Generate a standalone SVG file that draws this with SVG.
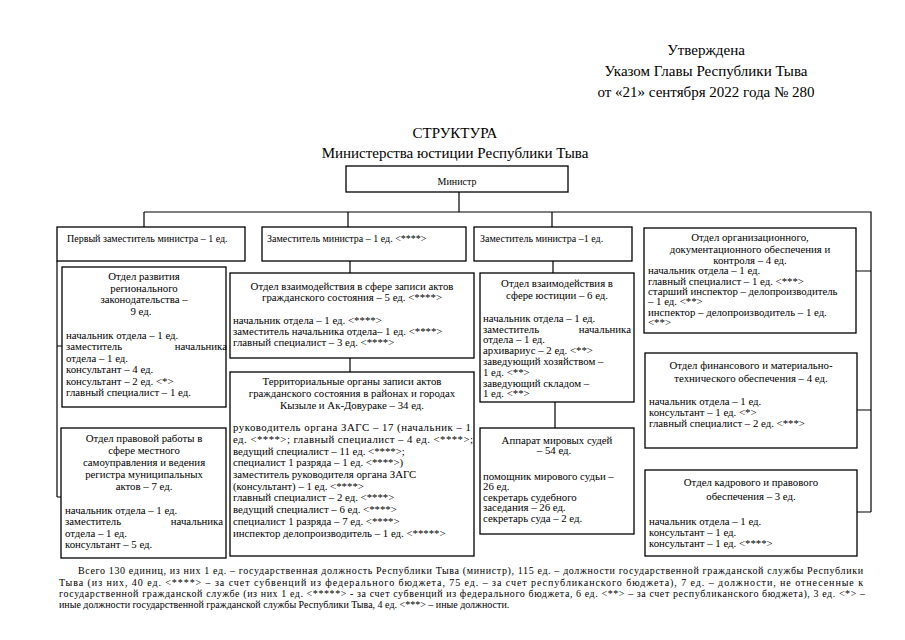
<svg xmlns="http://www.w3.org/2000/svg" width="905" height="640" viewBox="0 0 905 640">
<style>
text{font-family:"Liberation Serif","Times New Roman","DejaVu Serif",serif;fill:#000}
.h{font-size:15px;text-anchor:middle}
.t{font-size:10.8px}
.s{font-size:10px}
.c{text-anchor:middle}
.e{text-anchor:end}
.f{font-size:10px}
.box{fill:#fff;stroke:#000;stroke-width:1.3}
.ln{fill:none;stroke:#000;stroke-width:1.2}
</style>
<rect width="905" height="640" fill="#fff"/>
<g id="header">
<text class="h" x="706" y="55">Утверждена</text>
<text class="h" x="706" y="76">Указом Главы Республики Тыва</text>
<text class="h" x="706" y="97">от «21» сентября 2022 года № 280</text>
<text class="h" x="455" y="138">СТРУКТУРА</text>
<text class="h" x="455" y="158">Министерства юстиции Республики Тыва</text>
</g>
<g id="connectors">
<path class="ln" d="M459 192V212M144 212H871V512M144 212V227M348 212V227M552 212V227"/>
<path class="ln" d="M57 261V497M57 346H62M57 497H62"/>
<path class="ln" d="M350 261V273M350 358V372"/>
<path class="ln" d="M553 261V273M555 402V428"/>
<path class="ln" d="M856 271H871M857 410H871M857 512H871"/>
</g>
<g id="minister">
<rect class="box" x="346" y="166" width="222" height="26"/>
<text class="s c" x="457" y="185">Министр</text>
</g>
<g id="first-deputy">
<rect class="box" x="57" y="227" width="188" height="34"/>
<text class="s" x="67" y="242">Первый заместитель министра – 1 ед.</text>
</g>
<g id="deputy-1">
<rect class="box" x="262" y="227" width="204" height="34"/>
<text class="s" x="267" y="242">Заместитель министра – 1 ед. &lt;****&gt;</text>
</g>
<g id="deputy-2">
<rect class="box" x="474" y="227" width="158" height="34"/>
<text class="s" x="480" y="242">Заместитель министра –1 ед.</text>
</g>
<g id="org-dept">
<rect class="box" x="644" y="228" width="212" height="105"/>
<text class="t c" x="750" y="241">Отдел организационного,</text>
<text class="t c" x="750" y="252.5">документационного обеспечения и</text>
<text class="t c" x="750" y="264">контроля – 4 ед.</text>
<text class="t" x="648" y="274.2">начальник отдела – 1 ед.</text>
<text class="t" x="648" y="284.6">главный специалист – 1 ед. &lt;***&gt;</text>
<text class="t" x="648" y="295">старший инспектор – делопроизводитель</text>
<text class="t" x="648" y="305.4">– 1 ед. &lt;**&gt;</text>
<text class="t" x="648" y="315.8">инспектор – делопроизводитель – 1 ед.</text>
<text class="t" x="648" y="326.2">&lt;**&gt;</text>
</g>
<g id="regional-dept">
<rect class="box" x="62" y="267" width="164" height="140"/>
<text class="t c" x="144" y="280">Отдел развития</text>
<text class="t c" x="144" y="291.5">регионального</text>
<text class="t c" x="144" y="303">законодательства –</text>
<text class="t c" x="141" y="314.5">9 ед.</text>
<text class="t" x="66" y="338.5">начальник отдела – 1 ед.</text>
<text class="t" x="66" y="350">заместитель</text>
<text class="t e" x="227" y="350">начальника</text>
<text class="t" x="66" y="361.5">отдела – 1 ед.</text>
<text class="t" x="66" y="373">консультант – 4 ед.</text>
<text class="t" x="66" y="384.5">консультант – 2 ед. &lt;*&gt;</text>
<text class="t" x="66" y="396">главный специалист – 1 ед.</text>
</g>
<g id="legal-dept">
<rect class="box" x="61" y="428" width="165" height="130"/>
<text class="t c" x="144" y="442">Отдел правовой работы в</text>
<text class="t c" x="144" y="454">сфере местного</text>
<text class="t c" x="144" y="466">самоуправления и ведения</text>
<text class="t c" x="144" y="478">регистра муниципальных</text>
<text class="t c" x="144" y="490">актов – 7 ед.</text>
<text class="t" x="65" y="513.5">начальник отдела – 1 ед.</text>
<text class="t" x="65" y="525">заместитель</text>
<text class="t e" x="223" y="525">начальника</text>
<text class="t" x="65" y="536.5">отдела – 1 ед.</text>
<text class="t" x="65" y="548">консультант – 5 ед.</text>
</g>
<g id="zags-dept">
<rect class="box" x="230" y="273" width="244" height="85"/>
<text class="t c" x="352" y="289.5">Отдел взаимодействия в сфере записи актов</text>
<text class="t c" x="352" y="301">гражданского состояния – 5 ед. &lt;****&gt;</text>
<text class="t" x="233" y="323.5">начальник отдела – 1 ед. &lt;****&gt;</text>
<text class="t" x="233" y="334.5">заместитель начальника отдела– 1 ед. &lt;****&gt;</text>
<text class="t" x="233" y="345.5">главный специалист – 3 ед. &lt;****&gt;</text>
</g>
<g id="zags-territorial">
<rect class="box" x="230" y="372" width="244" height="184"/>
<text class="t c" x="352" y="384.5">Территориальные органы записи актов</text>
<text class="t c" x="352" y="396.8">гражданского состояния в районах и городах</text>
<text class="t c" x="352" y="409.2">Кызыле и Ак-Довураке – 34 ед.</text>
<text class="t" x="233" y="431.2" textLength="238" lengthAdjust="spacing">руководитель органа ЗАГС – 17 (начальник – 1</text>
<text class="t" x="233" y="442.9" textLength="240" lengthAdjust="spacing">ед. &lt;****&gt;; главный специалист – 4 ед. &lt;****&gt;;</text>
<text class="t" x="233" y="454.6">ведущий специалист – 11 ед. &lt;****&gt;;</text>
<text class="t" x="233" y="466.3">специалист 1 разряда – 1 ед. &lt;****&gt;)</text>
<text class="t" x="233" y="478">заместитель руководителя органа ЗАГС</text>
<text class="t" x="233" y="489.7">(консультант) – 1 ед. &lt;****&gt;</text>
<text class="t" x="233" y="501.4">главный специалист – 2 ед. &lt;****&gt;</text>
<text class="t" x="233" y="513.1">ведущий специалист – 6 ед. &lt;****&gt;</text>
<text class="t" x="233" y="524.8">специалист 1 разряда – 7 ед. &lt;****&gt;</text>
<text class="t" x="233" y="536.5">инспектор делопроизводитель – 1 ед. &lt;*****&gt;</text>
</g>
<g id="justice-dept">
<rect class="box" x="480" y="273" width="154" height="129"/>
<text class="t c" x="557" y="287">Отдел взаимодействия в</text>
<text class="t c" x="557" y="298.5">сфере юстиции – 6 ед.</text>
<text class="t" x="483" y="321.5">начальник отдела – 1 ед.</text>
<text class="t" x="483" y="332.5">заместитель</text>
<text class="t e" x="631" y="332.5">начальника</text>
<text class="t" x="483" y="343.3">отдела – 1 ед.</text>
<text class="t" x="483" y="354">архивариус – 2 ед. &lt;**&gt;</text>
<text class="t" x="483" y="365">заведующий хозяйством –</text>
<text class="t" x="483" y="375.7">1 ед. &lt;**&gt;</text>
<text class="t" x="483" y="386.5">заведующий складом –</text>
<text class="t" x="483" y="397.3">1 ед. &lt;**&gt;</text>
</g>
<g id="judges">
<rect class="box" x="480" y="428" width="154" height="106"/>
<text class="t c" x="557" y="443.5">Аппарат мировых судей</text>
<text class="t c" x="554" y="454.2">– 54 ед.</text>
<text class="t" x="483" y="479.5">помощник мирового судьи –</text>
<text class="t" x="483" y="490.2">26 ед.</text>
<text class="t" x="483" y="500.8">секретарь судебного</text>
<text class="t" x="483" y="511.4">заседания – 26 ед.</text>
<text class="t" x="483" y="522">секретарь суда – 2 ед.</text>
</g>
<g id="finance-dept">
<rect class="box" x="645" y="353" width="212" height="95"/>
<text class="t c" x="751" y="368.5">Отдел финансового и материально-</text>
<text class="t c" x="751" y="381.8">технического обеспечения – 4 ед.</text>
<text class="t" x="649" y="405.2">начальник отдела – 1 ед.</text>
<text class="t" x="649" y="416.2">консультант – 1 ед. &lt;*&gt;</text>
<text class="t" x="649" y="426.8">главный специалист – 2 ед. &lt;***&gt;</text>
</g>
<g id="hr-dept">
<rect class="box" x="645" y="470" width="212" height="86"/>
<text class="t c" x="751" y="486">Отдел кадрового и правового</text>
<text class="t c" x="751" y="499.5">обеспечения – 3 ед.</text>
<text class="t" x="649" y="524.5">начальник отдела – 1 ед.</text>
<text class="t" x="649" y="535.5">консультант – 1 ед.</text>
<text class="t" x="649" y="546.5">консультант – 1 ед.  &lt;****&gt;</text>
</g>
<g id="footer">
<text class="f" x="78" y="574.2" textLength="785" lengthAdjust="spacing">Всего 130 единиц, из них 1 ед. – государственная должность Республики Тыва (министр), 115 ед. – должности государственной гражданской службы Республики</text>
<text class="f" x="59" y="585.6" textLength="804" lengthAdjust="spacing">Тыва (из них, 40 ед. &lt;****&gt; –  за счет субвенций из федерального бюджета, 75 ед. – за счет республиканского бюджета), 7 ед. – должности, не отнесенные к</text>
<text class="f" x="59" y="596.8" textLength="806" lengthAdjust="spacing">государственной гражданской службе (из них 1 ед. &lt;*****&gt; - за счет субвенций из федерального бюджета, 6 ед. &lt;**&gt; –  за счет республиканского бюджета), 3 ед. &lt;*&gt; –</text>
<text class="f" x="59" y="607.8">иные должности государственной гражданской службы Республики Тыва, 4 ед. &lt;***&gt; –  иные должности.</text>
</g>
</svg>
